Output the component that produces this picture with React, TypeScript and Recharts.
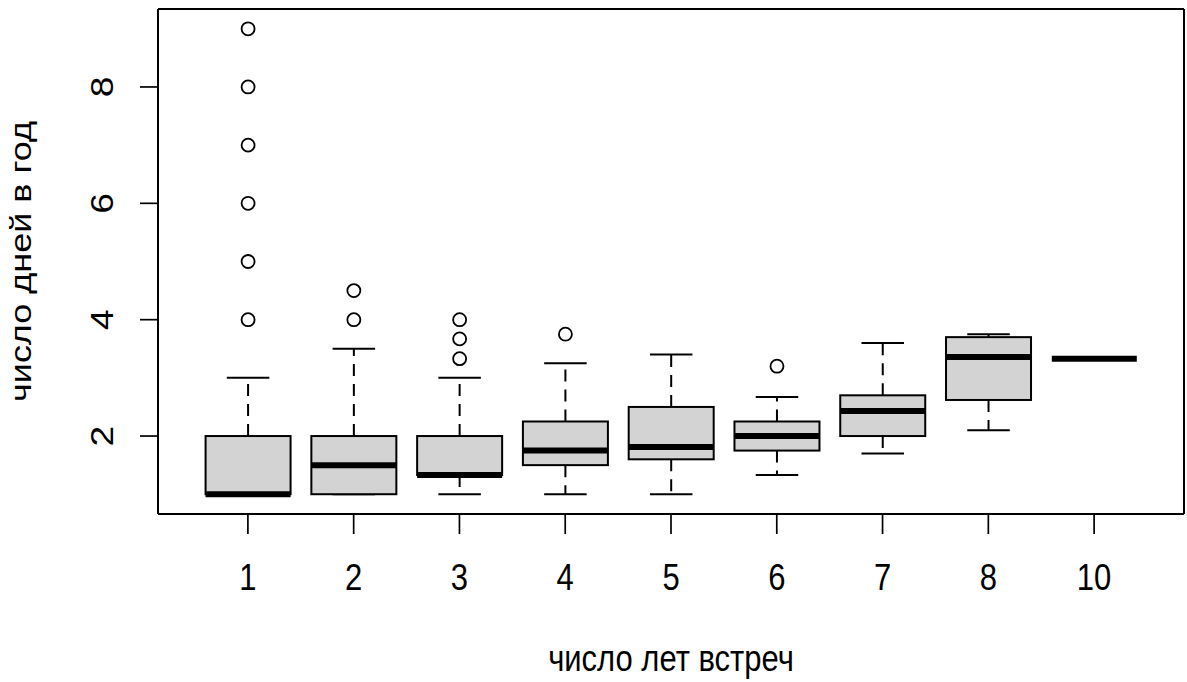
import React from "react";
import { ComposedChart, Bar, XAxis, YAxis, Label } from "recharts";

// число лет встреч → распределение числа дней в год
const categories = ["1", "2", "3", "4", "5", "6", "7", "8", "10"];
const whiskerLow = [1, 1, 1, 1, 1, 1.33, 1.7, 2.1, 3.33];
const q1 = [1, 1, 1.33, 1.5, 1.6, 1.75, 2, 2.62, 3.33];
const median = [1, 1.5, 1.33, 1.75, 1.81, 2, 2.43, 3.36, 3.33];
const q3 = [2, 2, 2, 2.25, 2.5, 2.25, 2.7, 3.7, 3.33];
const whiskerHigh = [3, 3.5, 3, 3.25, 3.4, 2.67, 3.6, 3.75, 3.33];
const outliers: number[][] = [
  [4, 5, 6, 7, 8, 9],
  [4, 4.5],
  [3.33, 3.67, 4],
  [3.75],
  [],
  [3.2],
  [],
  [],
  [],
];
const yTicks = [2, 4, 6, 8];

const Y_MIN = 0.66;
const Y_MAX = 9.34;
const FONT = "'Liberation Sans', Arial, sans-serif";
const STRETCH = 1.2;

const data = categories.map((cat, i) => ({
  cat,
  lo: whiskerLow[i],
  q1: q1[i],
  med: median[i],
  q3: q3[i],
  hi: whiskerHigh[i],
  out: outliers[i],
  span: [Y_MIN, Y_MAX],
}));

// the bar covers the whole domain, so its rect gives the y scale
const BoxShape = (props: any) => {
  const { x, y, width, height, payload } = props;
  const py = (v: number) => y + (height * (Y_MAX - v)) / (Y_MAX - Y_MIN);
  const cx = x + width / 2;
  const cap = width / 4;
  const top = py(payload.q3);
  const bottom = py(payload.q1);
  return (
    <g>
      <line x1={cx} x2={cx} y1={top} y2={py(payload.hi)} stroke="#000" strokeWidth={2} strokeDasharray="12 8" />
      <line x1={cx} x2={cx} y1={bottom} y2={py(payload.lo)} stroke="#000" strokeWidth={2} strokeDasharray="12 8" />
      <line x1={cx - cap} x2={cx + cap} y1={py(payload.hi)} y2={py(payload.hi)} stroke="#000" strokeWidth={2} />
      <line x1={cx - cap} x2={cx + cap} y1={py(payload.lo)} y2={py(payload.lo)} stroke="#000" strokeWidth={2} />
      <rect x={x} y={top} width={width} height={Math.max(bottom - top, 0)} fill="#d3d3d3" stroke="#000" strokeWidth={2} />
      <line x1={x} x2={x + width} y1={py(payload.med)} y2={py(payload.med)} stroke="#000" strokeWidth={6} />
      {payload.out.map((v: number, k: number) => (
        <circle key={k} cx={cx} cy={py(v)} r={6.5} fill="none" stroke="#000" strokeWidth={1.8} />
      ))}
    </g>
  );
};

const XTick = ({ x, payload }: any) => (
  <text transform={`translate(${x},590) scale(1,${STRETCH})`} textAnchor="middle" fontSize={31} fontFamily={FONT} fill="#000">
    {payload.value}
  </text>
);

const YTick = ({ y, payload }: any) => (
  <text transform={`translate(113,${y}) scale(1,${STRETCH}) rotate(-90)`} textAnchor="middle" fontSize={31} fontFamily={FONT} fill="#000">
    {payload.value}
  </text>
);

const XTitle = ({ viewBox }: any) => (
  <text
    transform={`translate(${viewBox.x + viewBox.width / 2},671) scale(1,${STRETCH})`}
    textAnchor="middle"
    fontSize={31}
    fontFamily={FONT}
    fill="#000"
  >
    число лет встреч
  </text>
);

const YTitle = ({ viewBox }: any) => (
  <text
    transform={`translate(31,${viewBox.y + viewBox.height / 2}) scale(1,${STRETCH}) rotate(-90)`}
    textAnchor="middle"
    fontSize={30}
    fontFamily={FONT}
    fill="#000"
  >
    число дней в год
  </text>
);

export default function App() {
  return (
    <div style={{ position: "fixed", left: 0, top: 0, width: 1187, height: 682, background: "#fff" }}>
      <ComposedChart
        width={1187}
        height={682}
        data={data}
        margin={{ top: 0, right: 0, left: 0, bottom: 0 }}
        barCategoryGap="10%"
      >
        <XAxis
          dataKey="cat"
          type="category"
          height={168}
          padding={{ left: 37, right: 37 }}
          tickSize={20}
          tickMargin={0}
          axisLine={{ stroke: "#000", strokeWidth: 2 }}
          tickLine={{ stroke: "#000", strokeWidth: 1.7 }}
          tick={<XTick />}
          interval={0}
        >
          <Label content={<XTitle />} />
        </XAxis>
        <XAxis
          xAxisId="top"
          dataKey="cat"
          orientation="top"
          height={9}
          tick={false}
          tickLine={false}
          axisLine={{ stroke: "#000", strokeWidth: 2 }}
        />
        <YAxis
          type="number"
          domain={[Y_MIN, Y_MAX]}
          ticks={yTicks}
          allowDataOverflow
          width={158}
          tickSize={18}
          tickMargin={0}
          axisLine={{ stroke: "#000", strokeWidth: 2 }}
          tickLine={{ stroke: "#000", strokeWidth: 1.7 }}
          tick={<YTick />}
        >
          <Label content={<YTitle />} />
        </YAxis>
        <YAxis
          yAxisId="right"
          orientation="right"
          type="number"
          domain={[Y_MIN, Y_MAX]}
          width={3}
          tick={false}
          tickLine={false}
          axisLine={{ stroke: "#000", strokeWidth: 2 }}
        />
        <Bar dataKey="span" shape={<BoxShape />} isAnimationActive={false} />
      </ComposedChart>
    </div>
  );
}
